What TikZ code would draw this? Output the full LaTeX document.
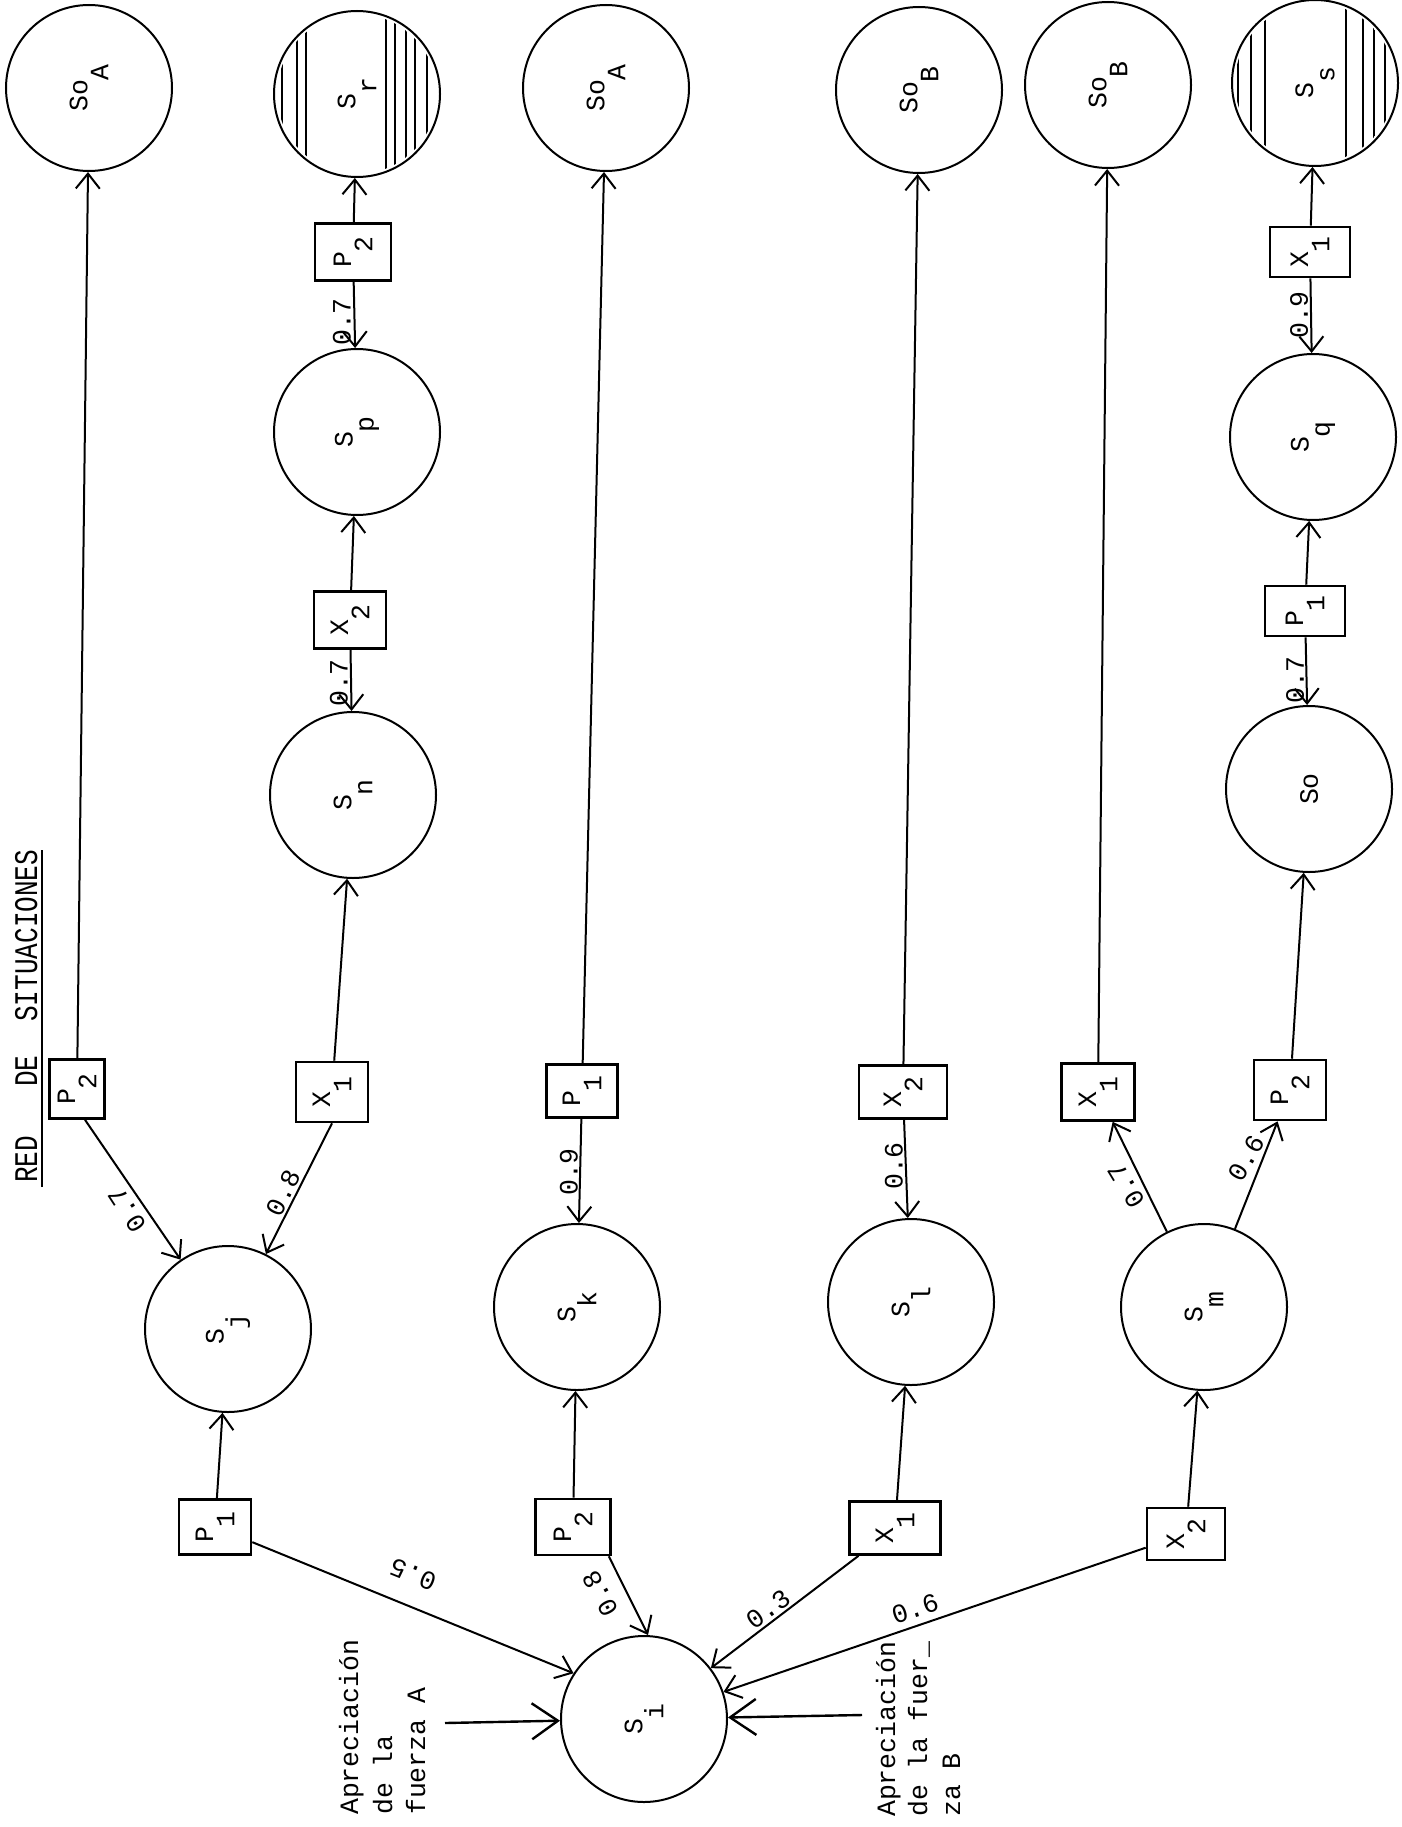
\documentclass[tikz,border=0pt]{standalone}
\usepackage{fontspec}
\usetikzlibrary{arrows.meta}
\newfontfamily\tw{Liberation Mono}
\newcommand\lowsub[1]{\raisebox{-0.8em}{#1}}
\begin{document}
\begin{tikzpicture}[x=1pt,y=-1pt,
  every node/.style={font=\tw\fontsize{26.5}{34}\selectfont},
  st/.style={circle,draw,line width=2pt,minimum size=166pt,inner sep=0pt},
  bx/.style={rectangle,draw,line width=2.6pt,inner sep=0pt},
  arr/.style={line width=2pt,-{Straight Barb[length=15pt,width=24pt]}},
  arrbig/.style={line width=2.4pt,-{Straight Barb[length=26pt,width=36pt]}},
  lab/.style={inner sep=0pt},
  hatch/.style={line width=2.2pt}]
\path[use as bounding box] (0,0) rectangle (1401,1827);

% title
\node[rotate=90,anchor=base west,inner sep=0pt,font=\tw\fontsize{33}{40}\selectfont] (tRED) at (37,1183) {\scalebox{0.79}[1]{RED}};
\node[rotate=90,anchor=base west,inner sep=0pt,font=\tw\fontsize{33}{40}\selectfont] (tDE) at (37,1087) {\scalebox{0.79}[1]{DE}};
\node[rotate=90,anchor=base west,inner sep=0pt,font=\tw\fontsize{33}{40}\selectfont] (tSIT) at (37,1022) {\scalebox{0.79}[1]{SITUACIONES}};
\draw[line width=1.6pt] (42,1187) -- (42,850);

% hatching
\begin{scope}
\clip (357,94) circle[radius=80pt];
\foreach \d in {-75,-60,-51,29,38,49,58,70} \draw[hatch] (357+\d,0) -- (357+\d,200);
\end{scope}
\begin{scope}
\clip (1315,83) circle[radius=80pt];
\foreach \d in {-77,-64,-50,31,48,59,70} \draw[hatch] (1315+\d,-10) -- (1315+\d,190);
\end{scope}

% circles
\node[st] (SoA1) at (89,88) {\rotatebox{90}{So\lowsub{A}}};
\node[st] (Sr) at (357,94) {\rotatebox{90}{S\lowsub{r}}};
\node[st] (SoA2) at (606,88) {\rotatebox{90}{So\lowsub{A}}};
\node[st] (SoB1) at (919,90) {\rotatebox{90}{So\lowsub{B}}};
\node[st] (SoB2) at (1108,85) {\rotatebox{90}{So\lowsub{B}}};
\node[st] (Ss) at (1315,83) {\rotatebox{90}{S\lowsub{s}}};
\node[st] (Sp) at (357,432) {\rotatebox{90}{S\lowsub{p}}};
\node[st] (Sq) at (1313,437) {\rotatebox{90}{S\lowsub{q}}};
\node[st] (Sn) at (353,795) {\rotatebox{90}{S\lowsub{n}}};
\node[st] (So) at (1309,789) {\rotatebox{90}{So}};
\node[st] (Sj) at (228,1329) {\rotatebox{90}{S\lowsub{j}}};
\node[st] (Sk) at (577,1307) {\rotatebox{90}{S\lowsub{k}}};
\node[st] (Sl) at (911,1302) {\rotatebox{90}{S\lowsub{l}}};
\node[st] (Sm) at (1204,1307) {\rotatebox{90}{S\lowsub{m}}};
\node[st] (Si) at (644,1719) {\rotatebox{90}{S\lowsub{i}}};

% boxes
\node[bx,minimum width=55pt,minimum height=59pt] (P2a) at (77,1089) {\rotatebox{90}{P\lowsub{2}}};
\node[bx,minimum width=72pt,minimum height=60pt] (X1a) at (332,1092) {\rotatebox{90}{X\lowsub{1}}};
\node[bx,minimum width=71pt,minimum height=53pt] (P1b) at (582,1091) {\rotatebox{90}{P\lowsub{1}}};
\node[bx,minimum width=88pt,minimum height=53pt] (X2c) at (903,1092) {\rotatebox{90}{X\lowsub{2}}};
\node[bx,minimum width=73pt,minimum height=57pt] (X1d) at (1098,1092) {\rotatebox{90}{X\lowsub{1}}};
\node[bx,minimum width=72pt,minimum height=60pt] (P2e) at (1290,1090) {\rotatebox{90}{P\lowsub{2}}};
\node[bx,minimum width=76pt,minimum height=57pt] (P2top) at (353,252) {\rotatebox{90}{P\lowsub{2}}};
\node[bx,minimum width=80pt,minimum height=50pt] (X1top) at (1310,252) {\rotatebox{90}{X\lowsub{1}}};
\node[bx,minimum width=72pt,minimum height=57pt] (X2mid) at (350,620) {\rotatebox{90}{X\lowsub{2}}};
\node[bx,minimum width=80pt,minimum height=50pt] (P1mid) at (1305,611) {\rotatebox{90}{P\lowsub{1}}};
\node[bx,minimum width=72pt,minimum height=55pt] (P1bot) at (215,1527) {\rotatebox{90}{P\lowsub{1}}};
\node[bx,minimum width=75pt,minimum height=56pt] (P2bot) at (573,1527) {\rotatebox{90}{P\lowsub{2}}};
\node[bx,minimum width=91pt,minimum height=53pt] (X1bot) at (895,1528) {\rotatebox{90}{X\lowsub{1}}};
\node[bx,minimum width=78pt,minimum height=52pt] (X2bot) at (1186,1534) {\rotatebox{90}{X\lowsub{2}}};

% side texts
\node[rotate=90,anchor=base west,inner sep=0pt] (ta1) at (358,1815) {Apreciación};
\node[rotate=90,anchor=base west,inner sep=0pt] (ta2) at (392,1815) {de la};
\node[rotate=90,anchor=base west,inner sep=0pt] (ta3) at (425,1815) {fuerza A};
\node[rotate=90,anchor=base west,inner sep=0pt] (tb1) at (895,1817) {Apreciación};
\node[rotate=90,anchor=base west,inner sep=0pt] (tb2) at (927,1817) {de la fuer\_};
\node[rotate=90,anchor=base west,inner sep=0pt] (tb3) at (960,1817) {za B};
\coordinate (fa) at (445,1723);
\coordinate (fb) at (862,1715);

% connectors
\draw[arr] (P2a) -- (SoA1);
\draw[arr] ([xshift=8pt]P2a.south) -- (Sj);
\draw[arr] (X1a.south) -- (Sj);
\draw[arr] (X1a) -- (Sn);
\draw[arr] (X2mid) -- (Sn);
\draw[arr] (X2mid) -- (Sp);
\draw[arr] (P2top) -- (Sp);
\draw[arr] (P2top) -- (Sr);
\draw[arr] (P1b) -- (SoA2);
\draw[arr] (P1b) -- (Sk);
\draw[arr] (X2c) -- (SoB1);
\draw[arr] (X2c) -- (Sl);
\draw[arr] (X1d) -- (SoB2);
\draw[arr] (Sm) -- (X1d);
\draw[arr] (Sm) -- (P2e);
\draw[arr] (P2e) -- (So);
\draw[arr] (P1mid) -- (So);
\draw[arr] (P1mid) -- (Sq);
\draw[arr] (X1top) -- (Sq);
\draw[arr] (X1top) -- (Ss);
\draw[arr] (P1bot) -- (Sj);
\draw[arr] (P2bot) -- (Sk);
\draw[arr] (X1bot) -- (Sl);
\draw[arr] (X2bot) -- (Sm);
\draw[arr] (P1bot) -- (Si.147);
\draw[arr] ([xshift=-3pt]P2bot.south east) -- ([xshift=4pt]Si.north);
\draw[arr] (X1bot) -- (Si);
\draw[arr] (X2bot) -- (Si);
\draw[arrbig] (fa) -- (Si);
\draw[arrbig] (fb) -- (Si);

% edge labels
\node[lab,rotate=123] (l1) at (127,1210) {0.7};
\node[lab,rotate=64] (l2) at (283,1193) {0.8};
\node[lab,rotate=90] (l3) at (569,1172) {0.9};
\node[lab,rotate=90] (l4) at (894,1166) {0.6};
\node[lab,rotate=121] (l5) at (1126,1186) {0.7};
\node[lab,rotate=60] (l6) at (1246,1158) {0.6};
\node[lab,rotate=90] (l7) at (339,683) {0.7};
\node[lab,rotate=90] (l8) at (342,322) {0.7};
\node[lab,rotate=90] (l9) at (1295,680) {0.7};
\node[lab,rotate=90] (l10) at (1299,315) {0.9};
\node[lab,rotate=158] (l11) at (413,1575) {0.5};
\node[lab,rotate=119] (l12) at (600,1594) {0.8};
\node[lab,rotate=36] (l13) at (768,1609) {0.3};
\node[lab,rotate=18] (l14) at (915,1609) {0.6};
\end{tikzpicture}
\end{document}
